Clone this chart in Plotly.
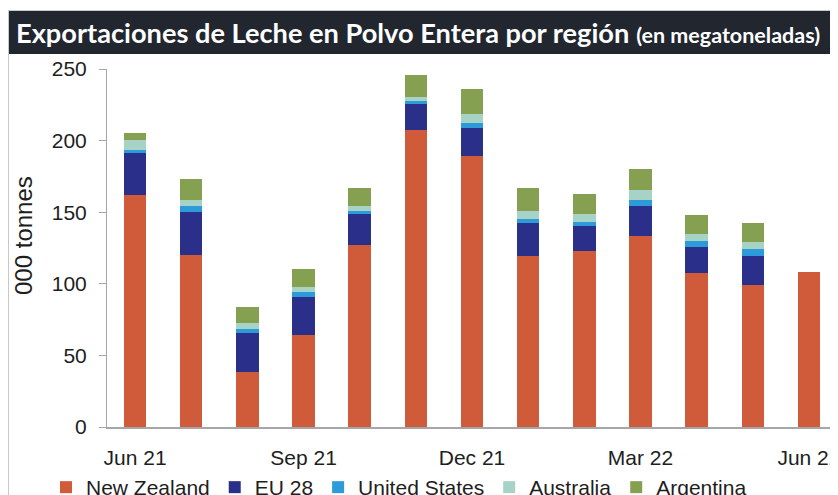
import plotly.graph_objects as go

# monthly whole milk powder exports, 000 tonnes
months = ["Jun 21", "Jul 21", "Aug 21", "Sep 21", "Oct 21", "Nov 21", "Dec 21",
          "Jan 22", "Feb 22", "Mar 22", "Apr 22", "May 22", "Jun 22"]
new_zealand = [162, 120, 38.5, 64.5, 127, 207.5, 189.5, 119.5, 123, 133.5, 107.5, 99, 108.5]
eu28 = [29, 30, 27, 26.5, 21.5, 18, 19, 23, 17.5, 21, 18, 20.5, None]
united_states = [2.5, 4, 3, 3, 2.5, 2.5, 4, 2.5, 3, 4, 4.5, 5, None]
australia = [7, 4.5, 4, 4, 3, 2.5, 6, 5.5, 5.5, 7, 5, 4.5, None]
argentina = [5, 14.5, 11.5, 12.5, 13, 15, 17.5, 16.5, 13.5, 15, 13, 13.5, None]

tick_months = ["Jun 21", "Sep 21", "Dec 21", "Mar 22", "Jun 22"]

series = [
    ("New Zealand", new_zealand, "#D05B3B"),
    ("EU 28", eu28, "#2A2F8A"),
    ("United States", united_states, "#2D9AD9"),
    ("Australia", australia, "#A6D3C5"),
    ("Argentina", argentina, "#86A052"),
]

fig = go.Figure()
for name, vals, col in series:
    fig.add_trace(go.Bar(x=months, y=vals, name=name, marker_color=col,
                         marker_line_width=0))

# page body adds an 8px offset; plot area in screen pixels is x 107..837, y 69..427
OFF = 8
L, T, W, H = 107, 69, 730, 358
def px_x(p):
    return (p - L) / W
def px_y(p):
    return (T + H - p) / H

fig.update_layout(
    width=838, height=495,
    margin=dict(l=L - OFF, r=838 - (L - OFF) - W, t=T - OFF, b=495 - (T - OFF) - H,
                autoexpand=False),
    barmode="stack", bargap=0.6,
    plot_bgcolor="white", paper_bgcolor="white",
    font=dict(family="Liberation Sans, Arial, sans-serif", size=21, color="#1e1e1e"),
    showlegend=True,
    legend=dict(orientation="h", x=px_x(46), xanchor="left", y=px_y(467), yanchor="top",
                traceorder="normal", font=dict(size=21), bgcolor="rgba(0,0,0,0)"),
    shapes=[
        dict(type="rect", xref="paper", yref="paper", x0=px_x(8.5), x1=px_x(860),
             y0=px_y(10.5), y1=px_y(540), line=dict(color="#c8c8c8", width=1),
             fillcolor="rgba(0,0,0,0)", layer="below"),
        dict(type="rect", xref="paper", yref="paper", x0=px_x(9), x1=px_x(860),
             y0=px_y(11), y1=px_y(54), line=dict(width=0), fillcolor="#21262F"),
    ],
    annotations=[
        dict(xref="paper", yref="paper", x=px_x(14), y=px_y(32.5), xanchor="left",
             yanchor="middle", showarrow=False,
             text="<b>Exportaciones de Leche en Polvo Entera por región</b> "
                  "<b><span style='font-size:21.5px'>(en megatoneladas)</span></b>",
             font=dict(family="Lato, Open Sans, sans-serif", size=27.2, color="white")),
        # y-axis title
        dict(xref="paper", yref="paper", x=px_x(23), y=px_y(236), xanchor="center",
             yanchor="middle", showarrow=False, textangle=-90, text="000 tonnes",
             font=dict(size=24)),
    ],
)

fig.update_xaxes(
    type="category", tickmode="array", tickvals=tick_months, ticktext=tick_months,
    ticks="", showgrid=False, showline=True, linecolor="#a6a6a6", linewidth=2,
    ticklabelstandoff=11, automargin=False,
)
fig.update_yaxes(
    range=[0, 250], tickvals=[0, 50, 100, 150, 200, 250], showgrid=False,
    zeroline=False, showline=True, linecolor="#a6a6a6", linewidth=1,
    ticks="outside", ticklen=7, tickcolor="#a6a6a6", ticklabelstandoff=8,
    automargin=False,
)

fig.write_html("out.html")
